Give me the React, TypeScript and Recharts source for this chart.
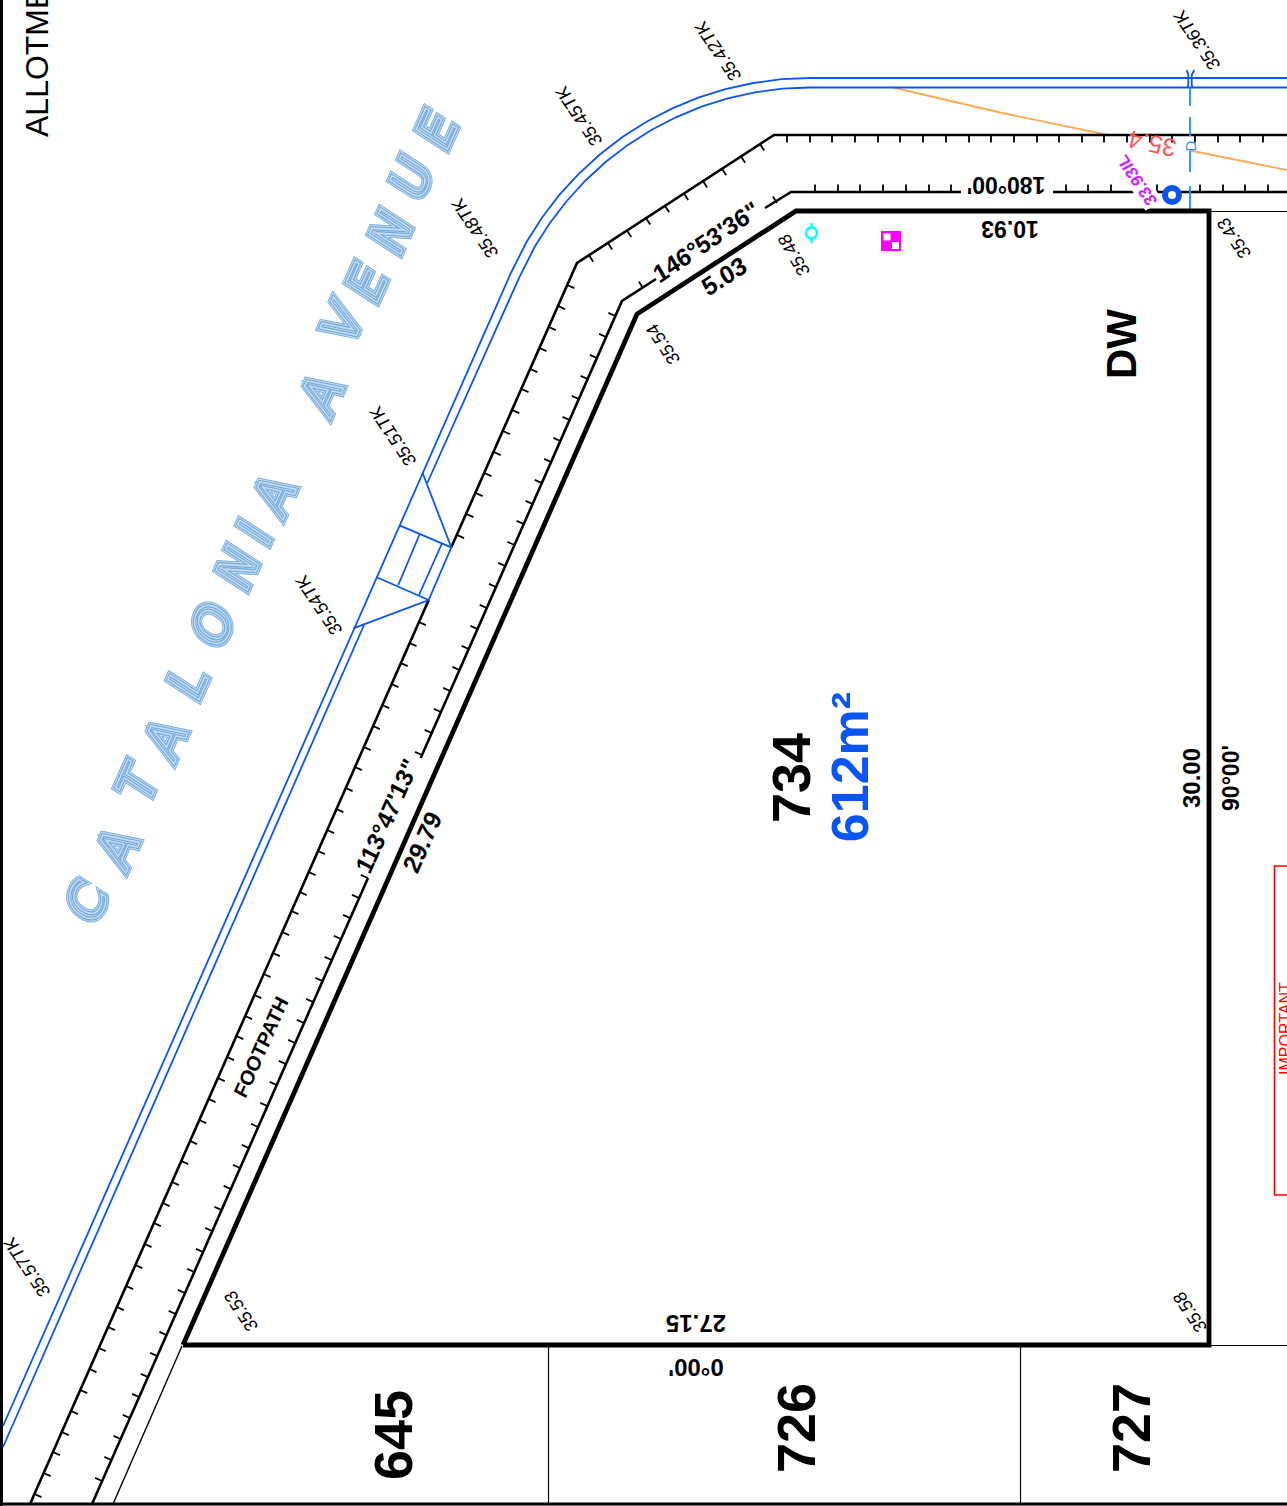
import { ComposedChart, Line, Scatter, XAxis, YAxis } from 'recharts';

const W = 1287;
const H = 1506;

type Pt = { x: number; y: number; text?: string };

const zip = (xs: number[], ys: number[], texts?: string[]): Pt[] =>
  xs.map((x, i) => ({ x, y: ys[i], text: texts ? texts[i] : undefined }));
const along = (xs: number[], y: number): Pt[] => xs.map((x) => ({ x, y }));

// boundary of the lot
const lotX = [183, 637, 796, 1209, 1209, 183];
const lotY = [1345, 314, 211, 211, 1345, 1345];

// neighbouring lot lines
const fenceA: [number[], number[]] = [[1209, 1287], [211.5, 211.5]];
const fenceB: [number[], number[]] = [[1209, 1287], [1345.5, 1345.5]];
const fenceC: [number[], number[]] = [[548.5, 548.5], [1345, 1504]];
const fenceD: [number[], number[]] = [[1020.5, 1020.5], [1345, 1504]];
const fenceE: [number[], number[]] = [[182, 113], [1346, 1504]];

// footpath lines
const outerAX = [1287, 774, 577, 451.3];
const outerAY = [135, 135, 263, 547.3];
const outerBX = [428.7, 30];
const outerBY = [600, 1504];
const innerAX = [420.7, 622, 656];
const innerAY = [758, 301, 279];
const innerBX = [368, 92];
const innerBY = [878, 1504];
const innerCX = [765, 791, 961];
const innerCY = [208, 192, 192];
const innerDX = [1053, 1287];
const innerDY = [192, 192];

// footpath tick marks
const outerTopTicks = [787, 810, 832, 855, 878, 900, 923, 946, 969, 991, 1014, 1037, 1059, 1082, 1104, 1127, 1150, 1172, 1195, 1218, 1240, 1263];
const innerTopTicks = [815, 838, 860, 883, 906, 929, 951, 1066, 1088, 1111, 1134, 1157, 1200, 1223, 1245, 1268];
const outerDiagTickX = [760, 741, 722, 703, 684, 665, 646, 627, 608, 589];
const outerDiagTickY = [144, 156.4, 168.8, 181.1, 193.5, 205.9, 218.2, 230.6, 243, 255.3];
const innerDiagTickX = [777, 643];
const innerDiagTickY = [203, 288];
const outerLongTickX = [567.3, 558, 548.8, 539.5, 530.3, 521.5, 512.2, 502.9, 493.7, 484.4, 475.6, 466.4, 457.1, 418.8, 409.5, 400.7, 391.4, 382.2, 372.9, 363.7, 354.8, 345.6, 336.3, 327.1, 317.8, 308.6, 299.7, 291.4, 282.1, 272.8, 263.6, 254.3, 245.1, 236.3, 227, 217.7, 208.5, 199.2, 190, 181.2, 171.9, 162.6, 153.8, 144.6, 135.3, 126.1, 116.8, 108, 98.7, 89.5, 80.2, 71, 61.7, 52.9, 43.6, 34.4];
const outerLongTickY = [285, 306, 327, 348, 369, 389, 410, 431, 452, 473, 493, 514, 535, 622, 643, 663, 684, 705, 726, 747, 767, 788, 809, 830, 851, 872, 892, 911, 932, 953, 974, 995, 1016, 1036, 1057, 1078, 1099, 1120, 1141, 1161, 1182, 1203, 1223, 1244, 1265, 1286, 1307, 1327, 1348, 1369, 1390, 1411, 1432, 1452, 1473, 1494];
const innerLongTickX = [615.4, 606.1, 596.9, 587.6, 578.8, 569.6, 560.3, 551.1, 541.8, 532.6, 523.7, 514.5, 505.2, 496, 486.7, 477.5, 468.7, 459.4, 450.2, 440.9, 431.7, 422, 367.8, 359, 350.1, 340.9, 331.6, 322.4, 313.1, 303.9, 295.1, 285.8, 276.6, 267.3, 258.1, 248.8, 240, 230.7, 221.5, 212.2, 203, 194.2, 184.9, 175.7, 166.4, 157.2, 147.9, 139.1, 129.8, 120.6, 111.3, 102.1];
const innerLongTickY = [316, 337, 358, 379, 399, 420, 441, 462, 483, 504, 524, 545, 566, 587, 608, 629, 649, 670, 691, 712, 733, 755, 878, 898, 918, 939, 960, 981, 1002, 1023, 1043, 1064, 1085, 1106, 1127, 1148, 1168, 1189, 1210, 1231, 1252, 1272, 1293, 1314, 1335, 1356, 1377, 1397, 1418, 1439, 1460, 1481];

// kerb lines of the road
const kerbUpperX = [1287, 810, 781.5, 753.2, 725.4, 698.2, 671.8, 646.5, 622.4, 599.8, 578.8, 559.5, 542.1, 526.8, 510.9, 3];
const kerbUpperY = [78, 78, 79.2, 83, 89.1, 97.7, 108.6, 121.8, 137.1, 154.5, 173.8, 194.7, 217.4, 241.5, 273, 1426];
const kerbLowerAX = [1287, 810, 782.3, 754.9, 727.8, 701.4, 675.8, 651.3, 627.9, 605.9, 585.5, 566.8, 549.9, 535, 519.5, 427.3];
const kerbLowerAY = [87.5, 87.5, 88.7, 92.3, 98.3, 106.6, 117.3, 130, 144.9, 161.8, 180.5, 201, 222.9, 246.3, 276.8, 483];
const kerbLowerBX = [364, 3];
const kerbLowerBY = [625, 1447];

// crossover
const crossLines: [number[], number[]][] = [
  [[422.7, 451.3, 428.7, 353.3], [473.3, 547.3, 600, 628.3]],
  [[400, 451.3], [525.7, 547.3]],
  [[376.7, 428.7], [577.3, 600]],
  [[419.3, 398.3], [535, 585]],
  [[441.7, 419], [544, 595]],
];

// services
const orangeA: [number[], number[]] = [[893, 1000, 1108], [87.5, 112.5, 135]];
const orangeB: [number[], number[]] = [[1190, 1287], [150.5, 170]];
const bracketL: [number[], number[]] = [[1186.7, 1188.3, 1188.3, 1187], [70, 75, 85, 88]];
const bracketR: [number[], number[]] = [[1194.3, 1191.7, 1191.7, 1193], [70, 75, 85, 88]];
const serviceDashTop = [88, 117, 151, 186];
const serviceDashEnd = [106, 136, 172, 211];

// red box on the right
const redBox: [number[], number[]] = [[1300, 1274.5, 1274.5, 1300], [866, 866, 1195, 1195]];
// sheet frame
const frameLeft: [number[], number[]] = [[1.5, 1.5], [0, 1506]];
const frameBottom: [number[], number[]] = [[0, 1287], [1504, 1504]];

// spot levels
const levelTexts = ['35.36TK', '35.42TK', '35.45TK', '35.48TK', '35.51TK', '35.54TK', '35.57TK', '35.53', '35.58', '35.43', '35.54'];
const levelX = [1197, 718, 579, 475, 393, 319, 27, 241, 1190, 1234, 663];
const levelY = [40, 51, 116, 228, 436, 605, 1267, 1311, 1312, 238, 344];

// street name
const streetLetters = ['C', 'A', 'T', 'A', 'L', 'O', 'N', 'I', 'A', 'A', 'V', 'E', 'N', 'U', 'E'];
const streetX = [87, 118, 138, 166, 188, 213, 238, 255, 275, 322, 343, 367, 391, 412, 437];
const streetY = [902, 848, 784, 739, 682, 625, 568, 533, 495, 394, 323, 283, 232, 178, 130];

// lot numbers
const lotNumberTexts = ['645', '726', '727', '734'];
const lotNumberX = [393, 796, 1131, 791];
const lotNumberY = [1435, 1428, 1428, 778];

const Line2 = (xs: number[], ys: number[], color: string, width: number, key: string) => (
  <Line
    key={key}
    data={zip(xs, ys)}
    dataKey="y"
    type="linear"
    stroke={color}
    strokeWidth={width}
    strokeLinejoin="miter"
    dot={false}
    activeDot={false}
    legendType="none"
    isAnimationActive={false}
  />
);

const tick = (dx: number, dy: number) => (p: any) => (
  <line x1={p.cx} y1={p.cy} x2={p.cx + dx} y2={p.cy + dy} stroke="#000" strokeWidth={1.8} />
);

const Ticks = (data: Pt[], dx: number, dy: number, key: string) => (
  <Scatter key={key} data={data} shape={tick(dx, dy)} isAnimationActive={false} />
);

type NoteStyle = {
  angle: number;
  size: number;
  weight?: number | string;
  color?: string;
  family?: string;
  skew?: number;
  anchor?: 'middle' | 'start';
  knockout?: [number, number];
};

const note = (s: NoteStyle) => (p: any) => {
  const t = `translate(${p.cx} ${p.cy}) rotate(${s.angle}) skewX(${s.skew ?? 0})`;
  return (
    <g transform={t}>
      {s.knockout && <rect x={-s.knockout[0] / 2} y={-s.knockout[1] / 2} width={s.knockout[0]} height={s.knockout[1]} fill="#fff" />}
      <text
        textAnchor={s.anchor ?? 'middle'}
        dominantBaseline="central"
        fontFamily={s.family ?? 'Liberation Sans'}
        fontSize={s.size}
        fontWeight={s.weight ?? 'bold'}
        fill={s.color ?? '#000'}
      >
        {p.payload.text}
      </text>
    </g>
  );
};

const Note = (x: number, y: number, text: string, s: NoteStyle) => (
  <Scatter key={text + x} data={[{ x, y, text }]} shape={note(s)} isAnimationActive={false} />
);

// street name letters: nested outlines give the hatched look
const streetShape = (p: any) => {
  const t = `translate(${p.cx} ${p.cy}) rotate(-66) skewX(-9)`;
  const layers: [string, number][] = [
    ['#6fa8dc', 7.4],
    ['#c8dcf1', 5.8],
    ['#6fa8dc', 3.8],
    ['#c8dcf1', 1.5],
  ];
  return (
    <g transform={t} fontFamily="DejaVu Sans" fontSize={50} textAnchor="middle" dominantBaseline="central">
      {layers.map(([c, w]) => (
        <text key={w} fill="none" stroke={c} strokeWidth={w} strokeLinejoin="miter">
          {p.payload.text}
        </text>
      ))}
    </g>
  );
};

const checkerShape = (p: any) => (
  <g>
    <rect x={p.cx - 10} y={p.cy - 10} width={20} height={20} fill="#ff00ff" />
    <rect x={p.cx - 7.5} y={p.cy - 7.5} width={7} height={7} fill="#fff" />
    <rect x={p.cx + 1} y={p.cy + 1} width={7} height={7} fill="#fff" />
  </g>
);

const cyanShape = (p: any) => (
  <g stroke="#00ffff" strokeWidth={2.4} fill="none">
    <circle cx={p.cx} cy={p.cy} r={5.5} />
    <line x1={p.cx} y1={p.cy - 10} x2={p.cx} y2={p.cy - 5} />
    <line x1={p.cx} y1={p.cy + 5} x2={p.cx} y2={p.cy + 10} />
  </g>
);

const ringShape = (p: any) => <circle cx={p.cx} cy={p.cy} r={7} fill="#fff" stroke="#0a55f0" strokeWidth={6} />;

export default function App() {
  return (
    <div style={{ position: 'absolute', left: 0, top: 0, width: W, height: H, overflow: 'hidden', background: '#fff' }}>
      <ComposedChart width={W} height={H} margin={{ top: 0, right: 0, bottom: 0, left: 0 }}>
        <XAxis type="number" dataKey="x" domain={[0, W]} hide allowDataOverflow />
        <YAxis type="number" dataKey="y" domain={[0, H]} reversed hide allowDataOverflow />

        {Line2(frameLeft[0], frameLeft[1], '#000', 3, 'frameL')}
        {Line2(frameBottom[0], frameBottom[1], '#000', 3, 'frameB')}

        {Line2(fenceA[0], fenceA[1], '#000', 1.2, 'fa')}
        {Line2(fenceB[0], fenceB[1], '#000', 1.2, 'fb')}
        {Line2(fenceC[0], fenceC[1], '#000', 1.2, 'fc')}
        {Line2(fenceD[0], fenceD[1], '#000', 1.2, 'fd')}
        {Line2(fenceE[0], fenceE[1], '#000', 1.4, 'fe')}

        {Line2(orangeA[0], orangeA[1], '#ffaa55', 1.8, 'oa')}
        {Line2(orangeB[0], orangeB[1], '#ffaa55', 1.8, 'ob')}

        {Line2(outerAX, outerAY, '#000', 2.6, 'oA')}
        {Line2(outerBX, outerBY, '#000', 2.6, 'oB')}
        {Line2(innerAX, innerAY, '#000', 2.6, 'iA')}
        {Line2(innerBX, innerBY, '#000', 2.6, 'iB')}
        {Line2(innerCX, innerCY, '#000', 2.6, 'iC')}
        {Line2(innerDX, innerDY, '#000', 2.6, 'iD')}

        {Ticks(along(outerTopTicks, 135), 0, 7.5, 't1')}
        {Ticks(along(innerTopTicks, 192), 0, -7.5, 't2')}
        {Ticks(zip(outerDiagTickX, outerDiagTickY), 4.2, 6.4, 't3')}
        {Ticks(zip(innerDiagTickX, innerDiagTickY), -4.2, -6.4, 't4')}
        {Ticks(zip(outerLongTickX, outerLongTickY), 7, 3.1, 't5')}
        {Ticks(zip(innerLongTickX, innerLongTickY), -7, -3.1, 't6')}

        {Line2(kerbUpperX, kerbUpperY, '#0a55f5', 1.8, 'kU')}
        {Line2(kerbLowerAX, kerbLowerAY, '#0a55f5', 1.8, 'kA')}
        {Line2(kerbLowerBX, kerbLowerBY, '#0a55f5', 1.8, 'kB')}
        {crossLines.map((c, i) => Line2(c[0], c[1], '#0a55f5', 1.8, 'c' + i))}
        {Line2(bracketL[0], bracketL[1], '#0a55f5', 1.8, 'bL')}
        {Line2(bracketR[0], bracketR[1], '#0a55f5', 1.8, 'bR')}

        {serviceDashTop.map((t, i) => Line2([1190, 1190], [t, serviceDashEnd[i]], '#1e90ff', 1.8, 'd' + i))}

        {Line2(lotX, lotY, '#000', 4.8, 'lot')}

        {Line2(redBox[0], redBox[1], '#ff0000', 1.6, 'red')}

        <Scatter data={zip(streetX, streetY, streetLetters)} shape={streetShape} isAnimationActive={false} />
        <Scatter
          data={zip(levelX, levelY, levelTexts)}
          shape={note({ angle: 236, size: 18, weight: 'normal', skew: -7 })}
          isAnimationActive={false}
        />
        <Scatter
          data={zip(lotNumberX, lotNumberY, lotNumberTexts)}
          shape={note({ angle: -90, size: 54 })}
          isAnimationActive={false}
        />

        {Note(794, 255, '35.48', { angle: 240, size: 18, weight: 'normal', skew: -7 })}
        {Note(850, 767, '612m²', { angle: -90, size: 52, color: '#0a55f5' })}
        {Note(1121, 344, 'DW', { angle: -90, size: 42 })}
        {Note(37, 137, 'ALLOTMENT', { angle: -90, size: 32, weight: 'normal', anchor: 'start' })}
        {Note(387, 816, '113°47\'13"', { angle: -66, size: 24.5, skew: -4 })}
        {Note(422, 842, '29.79', { angle: -66, size: 25, skew: -4 })}
        {Note(261, 1047, 'FOOTPATH', { angle: -66, size: 20, skew: -4 })}
        {Note(706, 242, '146°53\'36"', { angle: -34, size: 24.5, skew: -4 })}
        {Note(724, 276, '5.03', { angle: -33, size: 25, skew: -4 })}
        {Note(1006, 185, '180°00\'', { angle: 180, size: 23 })}
        {Note(1010, 229, '10.93', { angle: 180, size: 23 })}
        {Note(696, 1323, '27.15', { angle: 180, size: 24 })}
        {Note(696, 1367, '0°00\'', { angle: 180, size: 24 })}
        {Note(1191, 778, '30.00', { angle: -90, size: 24 })}
        {Note(1231, 778, '90°00\'', { angle: -90, size: 23 })}
        {Note(1152, 144, '35.4', { angle: 192, size: 25, weight: 'normal', color: '#ff5555' })}
        {Note(1137, 180, '33.93IL', { angle: 236, size: 17, color: '#cc22ff', skew: -6, knockout: [62, 20] })}
        {Note(1190, 146, 'D', { angle: -90, size: 15, weight: 'normal', color: '#1e90ff' })}
        {Note(1285, 1075, 'IMPORTANT', { angle: -90, size: 16, weight: 'normal', color: '#ff0000', anchor: 'start' })}

        <Scatter data={[{ x: 1172, y: 195 }]} shape={ringShape} isAnimationActive={false} />
        <Scatter data={[{ x: 891, y: 241 }]} shape={checkerShape} isAnimationActive={false} />
        <Scatter data={[{ x: 811.5, y: 233 }]} shape={cyanShape} isAnimationActive={false} />
      </ComposedChart>
    </div>
  );
}
